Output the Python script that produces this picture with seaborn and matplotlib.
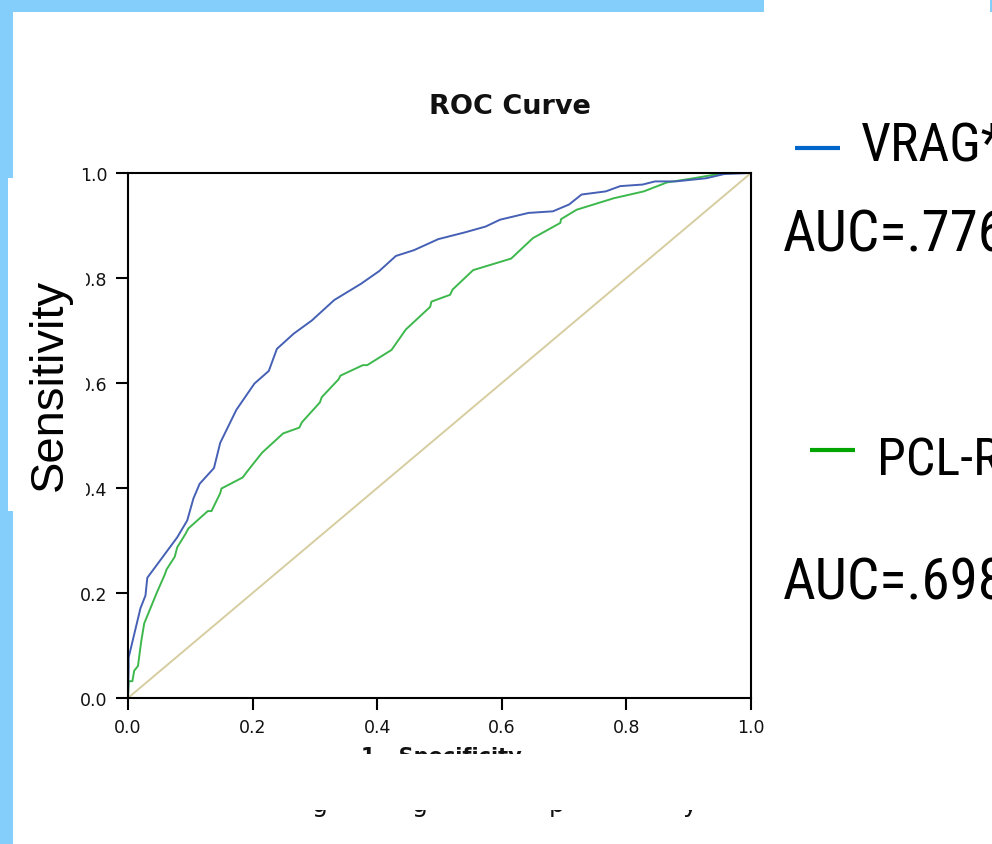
import matplotlib
matplotlib.use("Agg")
import matplotlib.pyplot as plt
import matplotlib.font_manager as fm
from matplotlib.patches import Rectangle
from matplotlib.lines import Line2D
import numpy as np
import pandas as pd
import seaborn as sns

# ---------------- data ----------------
vrag_fpr = [0.0, 0.001, 0.001, 0.020, 0.028, 0.031, 0.079, 0.095, 0.105, 0.115, 0.138,
            0.148, 0.174, 0.203, 0.226, 0.239, 0.266, 0.295, 0.331, 0.374, 0.403, 0.430,
            0.459, 0.498, 0.541, 0.574, 0.597, 0.643, 0.682, 0.708, 0.728, 0.767, 0.790,
            0.826, 0.846, 0.879, 0.928, 0.957, 1.0]
vrag_tpr = [0.0, 0.055, 0.077, 0.171, 0.195, 0.229, 0.306, 0.338, 0.380, 0.408, 0.438,
            0.486, 0.549, 0.599, 0.623, 0.665, 0.694, 0.719, 0.758, 0.789, 0.813, 0.842,
            0.853, 0.874, 0.887, 0.898, 0.911, 0.924, 0.927, 0.940, 0.959, 0.965, 0.975,
            0.978, 0.984, 0.984, 0.990, 0.998, 1.0]

pclr_fpr = [0.0, 0.001, 0.007, 0.010, 0.016, 0.021, 0.026, 0.036, 0.046, 0.059, 0.062,
            0.075, 0.079, 0.092, 0.097, 0.128, 0.134, 0.148, 0.150, 0.184, 0.191, 0.215,
            0.249, 0.275, 0.279, 0.308, 0.311, 0.338, 0.341, 0.377, 0.384, 0.423, 0.446,
            0.485, 0.487, 0.517, 0.521, 0.554, 0.615, 0.650, 0.694, 0.695, 0.720, 0.780,
            0.828, 0.865, 0.908, 0.957, 1.0]
pclr_tpr = [0.0, 0.032, 0.032, 0.052, 0.061, 0.106, 0.142, 0.171, 0.200, 0.235, 0.245,
            0.269, 0.287, 0.312, 0.323, 0.356, 0.356, 0.390, 0.399, 0.420, 0.431, 0.467,
            0.504, 0.515, 0.525, 0.563, 0.573, 0.607, 0.614, 0.634, 0.634, 0.663, 0.702,
            0.745, 0.755, 0.768, 0.778, 0.815, 0.837, 0.876, 0.905, 0.912, 0.930, 0.952,
            0.965, 0.982, 0.990, 1.0, 1.0]

ref_fpr = [0.0, 1.0]
ref_tpr = [0.0, 1.0]

ticks = [0.0, 0.2, 0.4, 0.6, 0.8, 1.0]
tick_labels = ["0.0", "0.2", "0.4", "0.6", "0.8", "1.0"]

legend_names = ["VRAG*", "PCL-R"]
auc_labels = ["AUC=.776", "AUC=.698"]

# ---------------- style ----------------
sns.set_theme(style="white")
plt.rcParams["font.family"] = ["DejaVu Sans"]

names = {f.name for f in fm.fontManager.ttflist}
narrow = None
for cand in ["Liberation Sans Narrow", "Roboto Condensed", "DejaVu Sans Condensed",
             "Noto Sans Condensed", "Open Sans Condensed"]:
    if cand in names:
        narrow = cand
        break
arial = "Liberation Sans" if "Liberation Sans" in names else "DejaVu Sans"
if narrow is None:
    leg_font, name_size, auc_size, pcl_size = arial, 31, 33.5, 30
else:
    leg_font, name_size, auc_size, pcl_size = narrow, 38.5, 41, 37.5

W, H = 992, 845
fig = plt.figure(figsize=(W / 100, H / 100), dpi=100)
fig.patch.set_facecolor("white")

def fx(x):
    return x / W

def fy(y):
    return 1 - y / H

ax = fig.add_axes([fx(128), fy(699), (751 - 128) / W, (699 - 174) / H])

df = pd.concat([
    pd.DataFrame({"fpr": vrag_fpr, "tpr": vrag_tpr, "curve": "VRAG"}),
    pd.DataFrame({"fpr": pclr_fpr, "tpr": pclr_tpr, "curve": "PCL-R"}),
    pd.DataFrame({"fpr": ref_fpr, "tpr": ref_tpr, "curve": "Reference"}),
], ignore_index=True)

palette = {"VRAG": "#4560B4", "PCL-R": "#3DB84C", "Reference": "#D6CDA0"}
sns.lineplot(data=df, x="fpr", y="tpr", hue="curve", palette=palette,
             hue_order=["Reference", "PCL-R", "VRAG"],
             estimator=None, sort=False, linewidth=1.4, ax=ax, legend=False)

ax.set_xlim(0, 1)
ax.set_ylim(0, 1)
ax.set_xticks(ticks)
ax.set_xticklabels(tick_labels)
ax.set_yticks(ticks)
ax.set_yticklabels(tick_labels)
ax.set_xlabel("")
ax.set_ylabel("")
for s in ax.spines.values():
    s.set_color("black")
    s.set_linewidth(1.5)
ax.tick_params(axis="both", which="both", direction="out", length=8.6, width=1.5,
               color="black", labelsize=12.5, labelcolor="#111111",
               bottom=True, left=True, top=False, right=False)
ax.tick_params(axis="y", pad=6)
ax.tick_params(axis="x", pad=5.5)
ax.set_facecolor("white")

# title
fig.text(fx(509.5), fy(114), "ROC Curve", ha="center", va="baseline",
         fontsize=19.5, fontweight="bold", family="DejaVu Sans", color="#111111")

# x axis label (partly hidden below)
fig.text(fx(441), fy(763), "1 - Specificity", ha="center", va="baseline",
         fontsize=15, fontweight="bold", family="DejaVu Sans", color="#111111", zorder=3)

# caption fragments (only descenders visible)
for ch, xx in zip(["g", "g", "p", "y"], [320, 420, 557, 690]):
    fig.text(fx(xx), fy(812), ch, ha="center", va="baseline", fontsize=18,
             family="DejaVu Sans", color="#111111", zorder=3)

# white cover below the x label
fig.patches.append(Rectangle((fx(13), fy(811)), (W - 13) / W, (811 - 755) / H,
                             transform=fig.transFigure, facecolor="white",
                             edgecolor="none", zorder=4))

# light-blue slide frame
blue = "#84CEFB"
fig.patches.append(Rectangle((0, fy(13)), 764 / W, 13 / H, transform=fig.transFigure,
                             facecolor=blue, edgecolor="none", zorder=5))
fig.patches.append(Rectangle((0, 0), 13 / W, 1, transform=fig.transFigure,
                             facecolor=blue, edgecolor="none", zorder=5))
fig.patches.append(Rectangle((fx(990), fy(13)), 2 / W, 13 / H, transform=fig.transFigure,
                             facecolor=blue, edgecolor="none", zorder=5))
# white box carrying the y label
fig.patches.append(Rectangle((fx(8), fy(512)), (86 - 8) / W, (512 - 179) / H,
                             transform=fig.transFigure, facecolor="white",
                             edgecolor="none", zorder=6))
fig.text(fx(50), fy(385), "Sensitivity", rotation=90, ha="center", va="center",
         fontsize=34, family=arial, color="black", zorder=7)

# legend-like annotations
legend_colors = ["#0066CC", "#00A500"]
fig.lines.append(Line2D([fx(795), fx(840)], [fy(149), fy(149)], transform=fig.transFigure,
                        color=legend_colors[0], linewidth=3, solid_capstyle="butt"))
fig.lines.append(Line2D([fx(810), fx(855)], [fy(451), fy(451)], transform=fig.transFigure,
                        color=legend_colors[1], linewidth=3, solid_capstyle="butt"))
fig.text(fx(861), fy(161), legend_names[0], ha="left", va="baseline",
         fontsize=name_size, family=leg_font, color="black")
fig.text(fx(783), fy(252), auc_labels[0], ha="left", va="baseline",
         fontsize=auc_size, family=leg_font, color="black")
fig.text(fx(877), fy(476), legend_names[1], ha="left", va="baseline",
         fontsize=pcl_size, family=leg_font, color="black")
fig.text(fx(783), fy(600), auc_labels[1], ha="left", va="baseline",
         fontsize=auc_size, family=leg_font, color="black")

fig.savefig("out.png", dpi=100, facecolor="white")
